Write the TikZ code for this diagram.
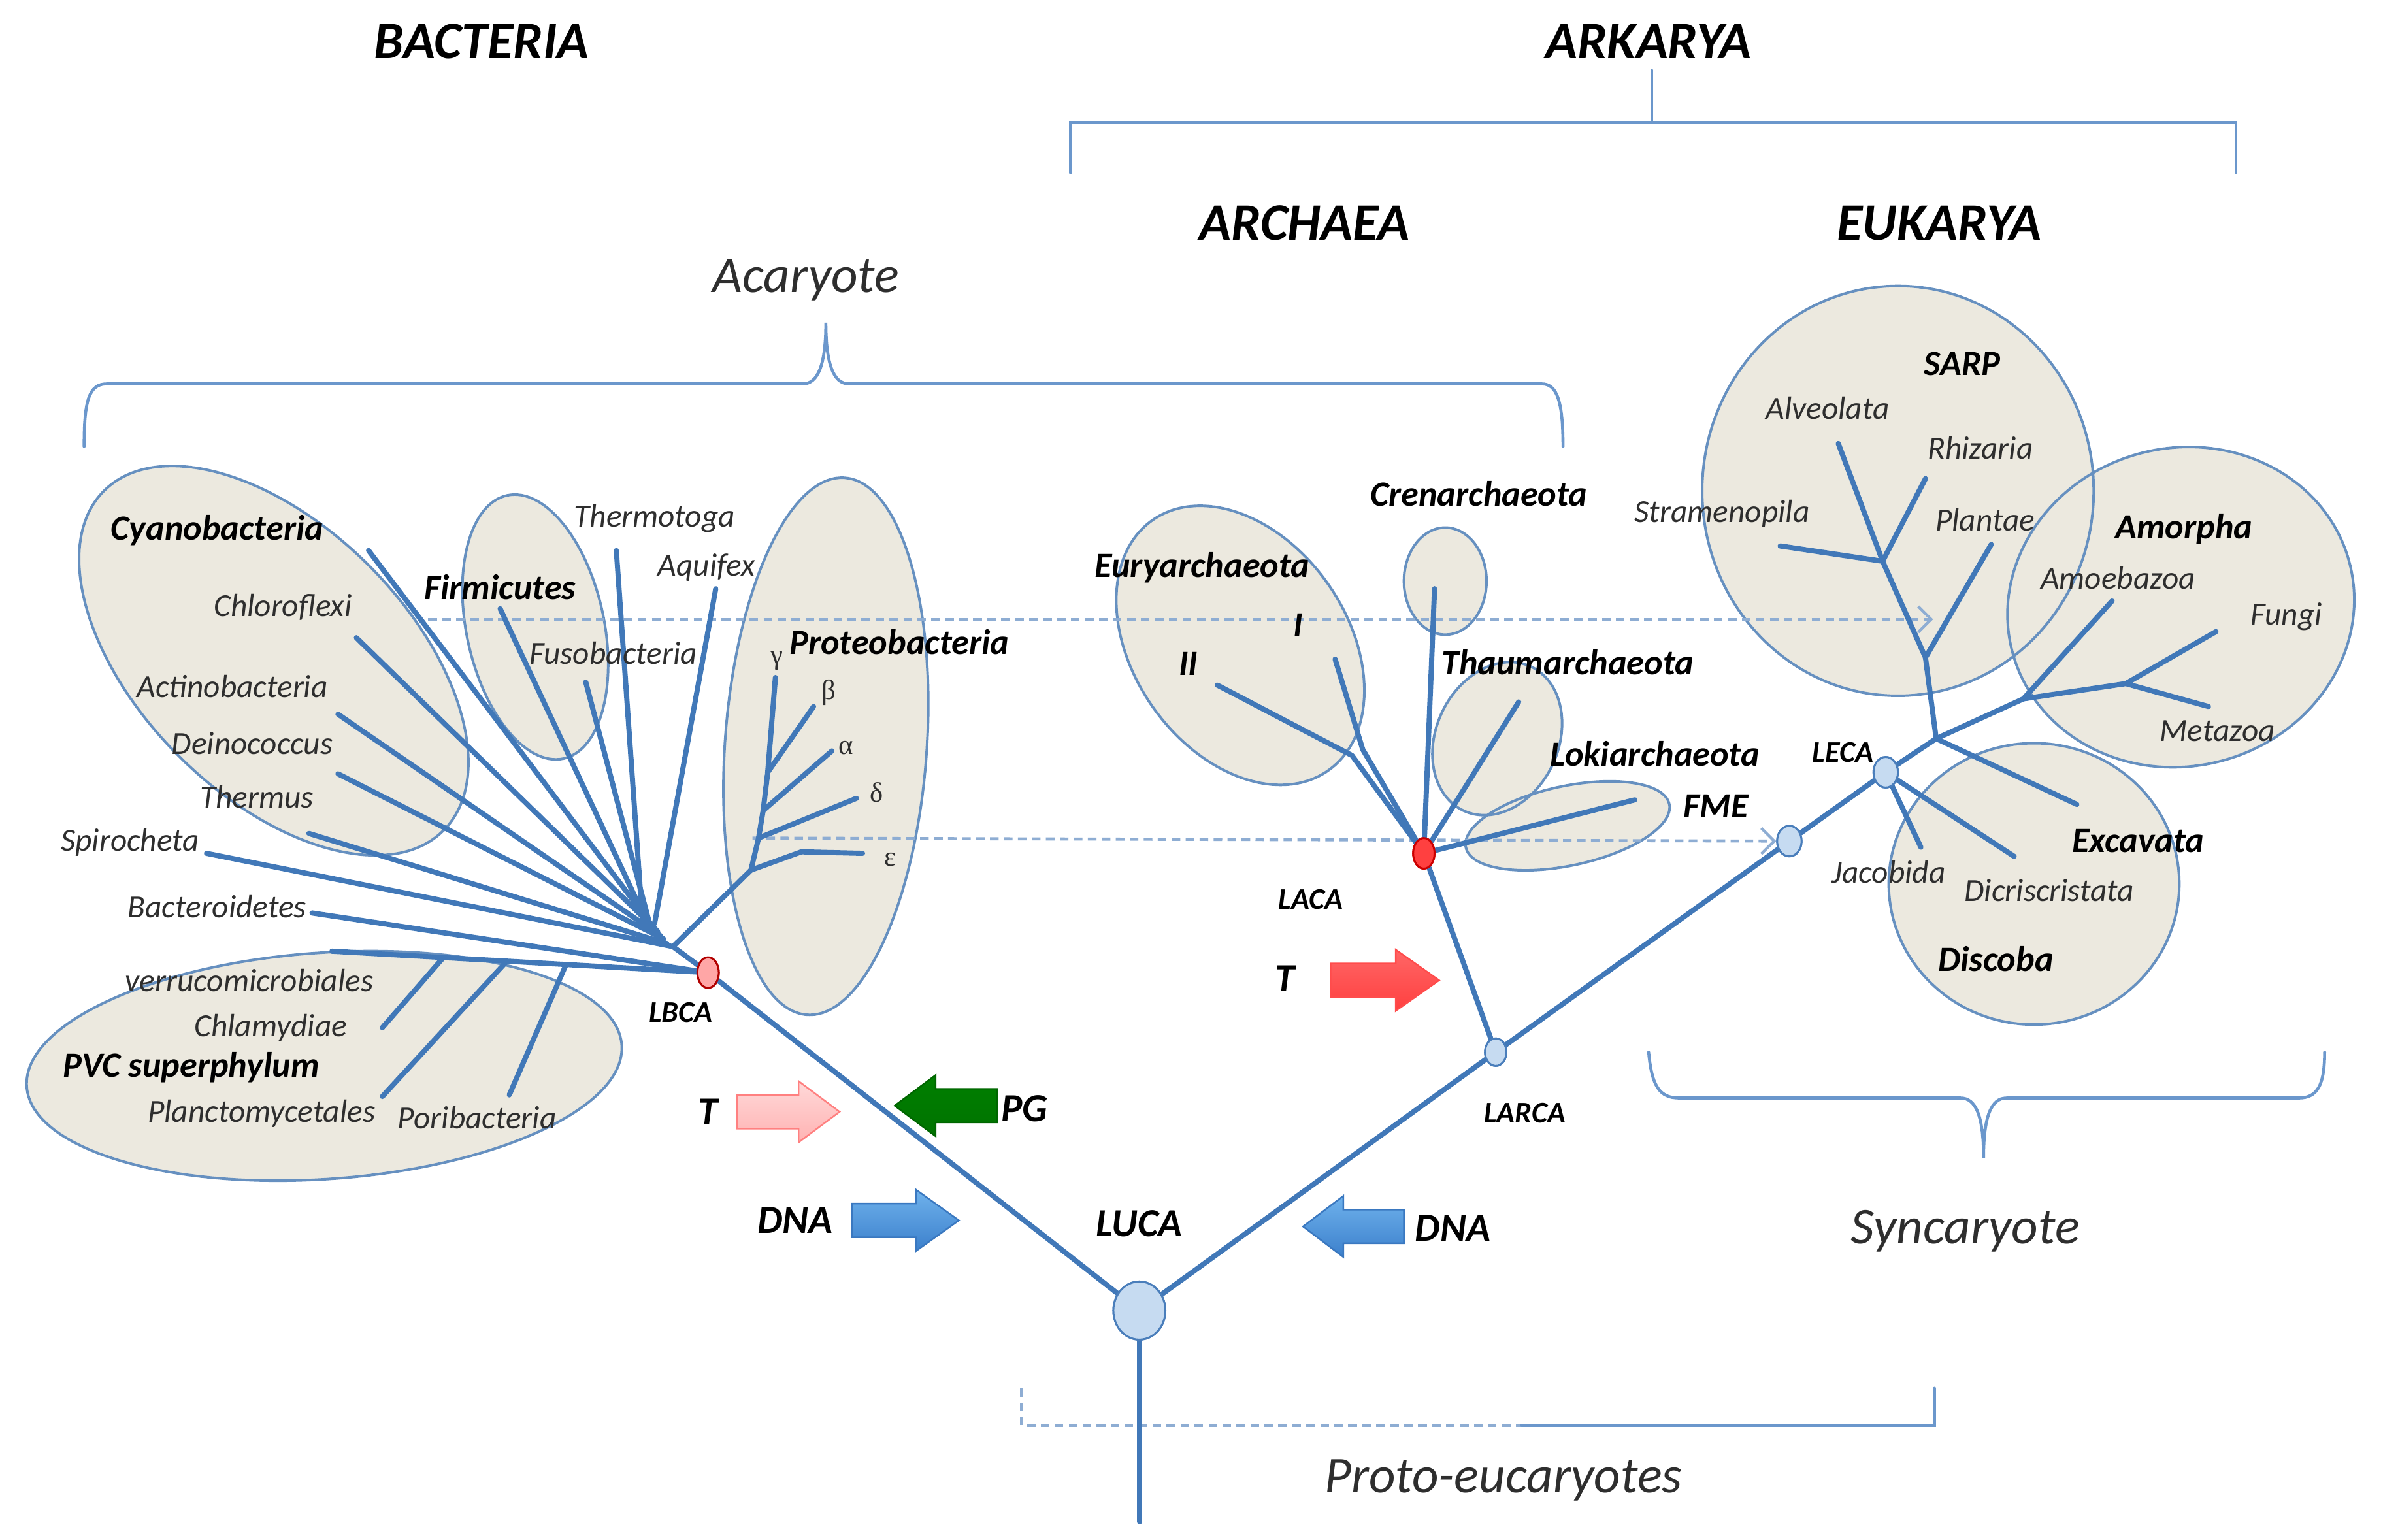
\documentclass[tikz,border=0pt]{standalone}
\usepackage{fontspec}
\setmainfont{Carlito}
\newfontfamily\grk{Liberation Serif}
\usetikzlibrary{arrows.meta,shapes.geometric,calc}
\definecolor{brblue}{HTML}{4178B8}
\definecolor{ellline}{HTML}{6690C0}
\definecolor{ellfill}{HTML}{ECE9DF}
\definecolor{dashblue}{HTML}{8EADD3}
\definecolor{brk}{HTML}{6B97CC}
\definecolor{txt}{HTML}{2E2E2E}
\definecolor{ancblue}{HTML}{4A7EBB}
\definecolor{ancfill}{HTML}{C6DBF1}
\definecolor{dnatop}{HTML}{6FB2EC}
\definecolor{dnabot}{HTML}{3C80CC}
\definecolor{dnaline}{HTML}{3A78C0}
\newcommand\blkarrow[6]{%
  \pgfmathsetmacro\xh{#2-0.40*(#2-#1)}%
  \draw[top color=#4,bottom color=#5,draw=#6,line width=1.5pt,line join=miter]
    (#1,#3-11) -- (\xh,#3-11) -- (\xh,#3-20) -- (#2,#3) -- (\xh,#3+20) -- (\xh,#3+11) -- (#1,#3+11) -- cycle;}
\begin{document}
\begin{tikzpicture}[x=0.05cm,y=-0.05cm,
  br/.style={draw=brblue,line width=4.8pt,line cap=round,line join=round},
  ell/.style={draw=ellline,line width=2.4pt},
  dashln/.style={draw=dashblue,line width=2.8pt,dash pattern=on 8pt off 5pt},
  brkln/.style={draw=brk,line width=2.8pt,line cap=round},
  lab/.style={font=\fontsize{30}{34}\selectfont\itshape,text=txt,inner sep=0pt},
  blab/.style={font=\fontsize{33}{38}\selectfont\bfseries\itshape,text=black,inner sep=0pt},
  nlab/.style={font=\fontsize{28}{32}\selectfont\bfseries\itshape,text=black,inner sep=0pt},
  big/.style={font=\fontsize{37}{42}\selectfont\bfseries\itshape,text=black,inner sep=0pt},
  ttl/.style={font=\fontsize{49}{56}\selectfont\bfseries\itshape,text=black,inner sep=0pt},
  grp/.style={font=\fontsize{48}{56}\selectfont\itshape,text=txt,inner sep=0pt},
  gk/.style={font=\fontsize{26}{30}\selectfont\grk,text=txt,inner sep=0pt},
  anc/.style={ellipse,draw=ancblue,fill=ancfill,line width=1.8pt,inner sep=0pt},
  redanc/.style={ellipse,draw=#1,line width=1.8pt,inner sep=0pt}
]
\useasboundingbox (0,0) rectangle (1568,1007);
\fill[white] (0,0) rectangle (1568,1007);

% ---------- brackets and braces ----------
\draw[brkln] (1080,46) -- (1080,80);
\draw[brkln] (700,113) -- (700,80) -- (1462,80) -- (1462,113);
\draw[brkln] (55,292) .. controls (55,262) and (58,251) .. (70,251) -- (525,251)
  .. controls (535,251) and (540,238) .. (540,211)
  .. controls (540,238) and (545,251) .. (555,251) -- (1008,251)
  .. controls (1018,251) and (1022,262) .. (1022,292);
\draw[brkln] (1078,688) .. controls (1080,710) and (1085,718) .. (1098,718) -- (1282,718)
  .. controls (1292,718) and (1297,730) .. (1297,757)
  .. controls (1297,730) and (1302,718) .. (1312,718) -- (1503,718)
  .. controls (1515,718) and (1520,710) .. (1520,688);
\draw[dashln] (668,908) -- (668,932) -- (995,932);
\draw[brkln,line width=3.2pt] (995,932) -- (1265,932) -- (1265,908);

% ---------- clade ellipses ----------
\foreach \cx/\cy/\rx/\ry/\a in {179/432/157/88/-45, 350/410/45/88/12, 540/488/66/176/-4,
   212/697/195/74/4, 811/422/70/100/35, 945/380/27/35/0, 979/483/40/52/-25,
   1025/540/68/26/12, 1241/321/128/134/0, 1426/397/114/104/15, 1330/578/95/92/0}{
  \pgfmathsetmacro\rxx{\rx*0.05}\pgfmathsetmacro\ryy{\ry*0.05}
  \fill[ellfill,rotate around={\a:(\cx,\cy)}] (\cx,\cy) ellipse [x radius=\rxx cm, y radius=\ryy cm];
}
\foreach \cx/\cy/\rx/\ry/\a in {179/432/157/88/-45, 350/410/45/88/12, 540/488/66/176/-4,
   212/697/195/74/4, 811/422/70/100/35, 945/380/27/35/0, 979/483/40/52/-25,
   1025/540/68/26/12, 1241/321/128/134/0, 1426/397/114/104/15, 1330/578/95/92/0}{
  \pgfmathsetmacro\rxx{\rx*0.05}\pgfmathsetmacro\ryy{\ry*0.05}
  \draw[ell,rotate around={\a:(\cx,\cy)}] (\cx,\cy) ellipse [x radius=\rxx cm, y radius=\ryy cm];
}

% ---------- ancestor nodes ----------
\node[anc,minimum width=1.7cm,minimum height=1.9cm] (luca) at (745,857) {};
\node[redanc=red!70!black,fill=red!35,minimum width=0.7cm,minimum height=1.0cm] (lbca) at (463,636) {};
\node[redanc=red!80!black,fill=red!75,minimum width=0.7cm,minimum height=1.0cm] (laca) at (931,558) {};
\node[anc,minimum width=0.7cm,minimum height=0.9cm] (larca) at (978,688) {};
\node[anc,minimum width=0.8cm,minimum height=1.0cm] (fme) at (1170,550) {};
\node[anc,minimum width=0.8cm,minimum height=1.0cm] (leca) at (1233,505) {};

% ---------- coordinates ----------
\coordinate (root) at (745,995);
\coordinate (bh) at (440,619);
% bacteria tips
\coordinate (tcyano) at (241,360);
\coordinate (tchloro) at (233,417);
\coordinate (tactino) at (221,467);
\coordinate (tdeino) at (221,506);
\coordinate (tthermus) at (202,545);
\coordinate (tspiro) at (135,558);
\coordinate (tbactero) at (204,597);
\coordinate (tfirmi) at (327,398);
\coordinate (tfuso) at (383,446);
\coordinate (tthermo) at (403,360);
\coordinate (taquif) at (468,385);
\coordinate (p1) at (491,569);
\coordinate (p2) at (496,548);
\coordinate (p3) at (499,530);
\coordinate (p4) at (502,505);
\coordinate (tgamma) at (507,443);
\coordinate (tbeta) at (532,462);
\coordinate (talpha) at (544,491);
\coordinate (tdelta) at (560,522);
\coordinate (eps1) at (524,557);
\coordinate (teps) at (564,558);
\coordinate (tverr) at (217,622);
\coordinate (v1) at (290,626);
\coordinate (v2) at (331,629);
\coordinate (v3) at (370,631);
\coordinate (tchlam) at (250,672);
\coordinate (tplanc) at (250,717);
\coordinate (tpori) at (333,716);
% archaea
\coordinate (tcren) at (938,385);
\coordinate (j1) at (884,494);
\coordinate (j2) at (891,490);
\coordinate (tII) at (796,448);
\coordinate (tI) at (873,431);
\coordinate (tthaum) at (993,459);
\coordinate (tloki) at (1069,523);
% eukarya
\coordinate (e1) at (1266,483);
\coordinate (e2) at (1259,430);
\coordinate (e3) at (1231,367);
\coordinate (talv) at (1202,290);
\coordinate (trhiz) at (1259,313);
\coordinate (tstram) at (1164,357);
\coordinate (tplant) at (1302,356);
\coordinate (a1) at (1323,457);
\coordinate (a2) at (1390,447);
\coordinate (tamoeb) at (1381,393);
\coordinate (tfungi) at (1449,413);
\coordinate (tmeta) at (1444,462);
\coordinate (texc) at (1358,526);
\coordinate (tdic) at (1317,560);
\coordinate (tjac) at (1256,554);
% dashed arrows
\coordinate (d1s) at (280,405);
\coordinate (d1e) at (1264,405);
\coordinate (d2s) at (492,548);

% ---------- dashed transfers ----------
\draw[dashln,-{Straight Barb[length=12pt,width=24pt,line width=2.6pt]}] (d1s) -- (d1e);
\draw[dashln,-{Straight Barb[length=12pt,width=24pt,line width=2.6pt]}] (d2s) -- (fme);

% ---------- branches ----------
\draw[br] (luca) -- (lbca);
\draw[br] (luca) -- (larca);
\draw[br] (luca.south) -- (root);
\draw[br] (larca) -- (fme);
\draw[br] (fme) -- (leca);
\draw[br] (larca) -- (laca);
\draw[br] (lbca) -- (bh);
\draw[br] (tcyano) -- (427,606);
\draw[br] (tchloro) -- (430,609);
\draw[br] (tactino) -- (432,612);
\draw[br] (tdeino) -- (434,614);
\draw[br] (tthermus) -- (436,617);
\draw[br] (tspiro) -- (bh);
\draw[br] (tbactero) -- (lbca);
\draw[br] (tfirmi) -- (423,603);
\draw[br] (tfuso) -- (425,605);
\draw[br] (tthermo) -- (420,601);
\draw[br] (taquif) -- (428,604);
\draw[br] (bh) -- (p1) -- (p2) -- (p3) -- (p4) -- (tgamma);
\draw[br] (p4) -- (tbeta);
\draw[br] (p3) -- (talpha);
\draw[br] (p2) -- (tdelta);
\draw[br] (p1) -- (eps1) -- (teps);
\draw[br] (tverr) -- (lbca);
\draw[br] (v1) -- (tchlam);
\draw[br] (v2) -- (tplanc);
\draw[br] (v3) -- (tpori);
\draw[br] (laca) -- (tcren);
\draw[br] (laca) -- (j1) -- (tII);
\draw[br] (laca) -- (j2) -- (tI);
\draw[br] (laca) -- (tthaum);
\draw[br] (laca) -- (tloki);
\draw[br] (leca) -- (e1) -- (e2) -- (e3) -- (talv);
\draw[br] (e3) -- (trhiz);
\draw[br] (e3) -- (tstram);
\draw[br] (e2) -- (tplant);
\draw[br] (e1) -- (a1) -- (tamoeb);
\draw[br] (a1) -- (a2) -- (tfungi);
\draw[br] (a2) -- (tmeta);
\draw[br] (e1) -- (texc);
\draw[br] (leca) -- (tdic);
\draw[br] (leca) -- (tjac);
% redraw nodes on top
\node[anc,minimum width=1.7cm,minimum height=1.9cm] at (luca) {};
\node[redanc=red!70!black,fill=red!35,minimum width=0.7cm,minimum height=1.0cm] at (lbca) {};
\node[redanc=red!80!black,fill=red!75,minimum width=0.7cm,minimum height=1.0cm] at (laca) {};
\node[anc,minimum width=0.7cm,minimum height=0.9cm] at (larca) {};
\node[anc,minimum width=0.8cm,minimum height=1.0cm] at (fme) {};
\node[anc,minimum width=0.8cm,minimum height=1.0cm] at (leca) {};

% ---------- block arrows ----------
\blkarrow{482}{549}{727}{red!15}{red!30}{red!50}
\blkarrow{652}{585}{723}{green!50!black}{green!45!black}{green!40!black}
\blkarrow{557}{627}{798}{dnatop}{dnabot}{dnaline}
\blkarrow{918}{852}{802}{dnatop}{dnabot}{dnaline}
\blkarrow{870}{941}{641}{red!60}{red!75}{red!70}

% ---------- labels ----------
\node[ttl] (lbact) at (315,27) {BACTERIA};
\node[ttl] (lark) at (1078,27) {ARKARYA};
\node[ttl] (larch) at (853,146) {ARCHAEA};
\node[ttl] (leuk) at (1268,146) {EUKARYA};
\node[grp] (lacar) at (527,183) {Acaryote};
\node[grp] (lsync) at (1285,805) {Syncaryote};
\node[grp] (lproto) at (983,968) {Proto-eucaryotes};

\node[blab] (lcyano) at (142,347) {Cyanobacteria};
\node[lab] (lchloro) at (185,397) {Chloroflexi};
\node[blab] (lfirmi) at (327,384) {Firmicutes};
\node[lab] (lthermo) at (428,339) {Thermotoga};
\node[lab] (laquif) at (462,371) {Aquifex};
\node[lab] (lfuso) at (401,427) {Fusobacteria};
\node[blab] (lproteo) at (588,420) {Proteobacteria};
\node[gk] (lgamma) at (508,432) {γ};
\node[gk] (lbeta) at (542,453) {β};
\node[gk] (lalpha) at (553,489) {α};
\node[gk] (ldelta) at (573,518) {δ};
\node[gk] (leps) at (582,562) {ε};
\node[lab] (lactino) at (152,449) {Actinobacteria};
\node[lab] (ldeino) at (165,486) {Deinococcus};
\node[lab] (lthermus) at (168,521) {Thermus};
\node[lab] (lspiro) at (85,551) {Spirocheta};
\node[lab] (lbactero) at (142,593) {Bacteroidetes};
\node[lab] (lverr) at (163,641) {verrucomicrobiales};
\node[lab] (lchlam) at (177,672) {Chlamydiae};
\node[blab] (lpvc) at (125,698) {PVC superphylum};
\node[lab] (lplanc) at (171,728) {Planctomycetales};
\node[lab] (lpori) at (312,731) {Poribacteria};
\node[nlab] (llbca) at (445,662) {LBCA};
\node[big] (lt1) at (463,727) {T};
\node[big] (lpg) at (670,725) {PG};
\node[big] (ldna1) at (520,798) {DNA};
\node[big] (lluca) at (745,800) {LUCA};
\node[big] (ldna2) at (950,803) {DNA};
\node[nlab] (llarca) at (997,728) {LARCA};
\node[nlab] (llaca) at (857,588) {LACA};
\node[big] (lt2) at (840,640) {T};
\node[blab] (leury) at (786,371) {Euryarchaeota};
\node[blab] (lI) at (849,409) {I};
\node[blab] (lII) at (777,434) {II};
\node[blab] (lcren) at (967,323) {Crenarchaeota};
\node[blab] (lthaum) at (1025,433) {Thaumarchaeota};
\node[blab] (lloki) at (1082,493) {Lokiarchaeota};
\node[blab] (lfme) at (1122,527) {FME};
\node[nlab] (lleca) at (1205,492) {LECA};
\node[blab] (lsarp) at (1283,238) {SARP};
\node[lab] (lalv) at (1195,267) {Alveolata};
\node[lab] (lrhiz) at (1295,293) {Rhizaria};
\node[lab] (lstram) at (1126,336) {Stramenopila};
\node[lab] (lplant) at (1298,340) {Plantae};
\node[blab] (lamor) at (1428,346) {Amorpha};
\node[lab] (lamoeb) at (1385,378) {Amoebazoa};
\node[lab] (lfungi) at (1495,403) {Fungi};
\node[lab] (lmeta) at (1450,478) {Metazoa};
\node[blab] (lexc) at (1398,550) {Excavata};
\node[lab] (ljac) at (1235,570) {Jacobida};
\node[lab] (ldic) at (1340,582) {Dicriscristata};
\node[blab] (ldisc) at (1305,627) {Discoba};
\end{tikzpicture}
\end{document}
